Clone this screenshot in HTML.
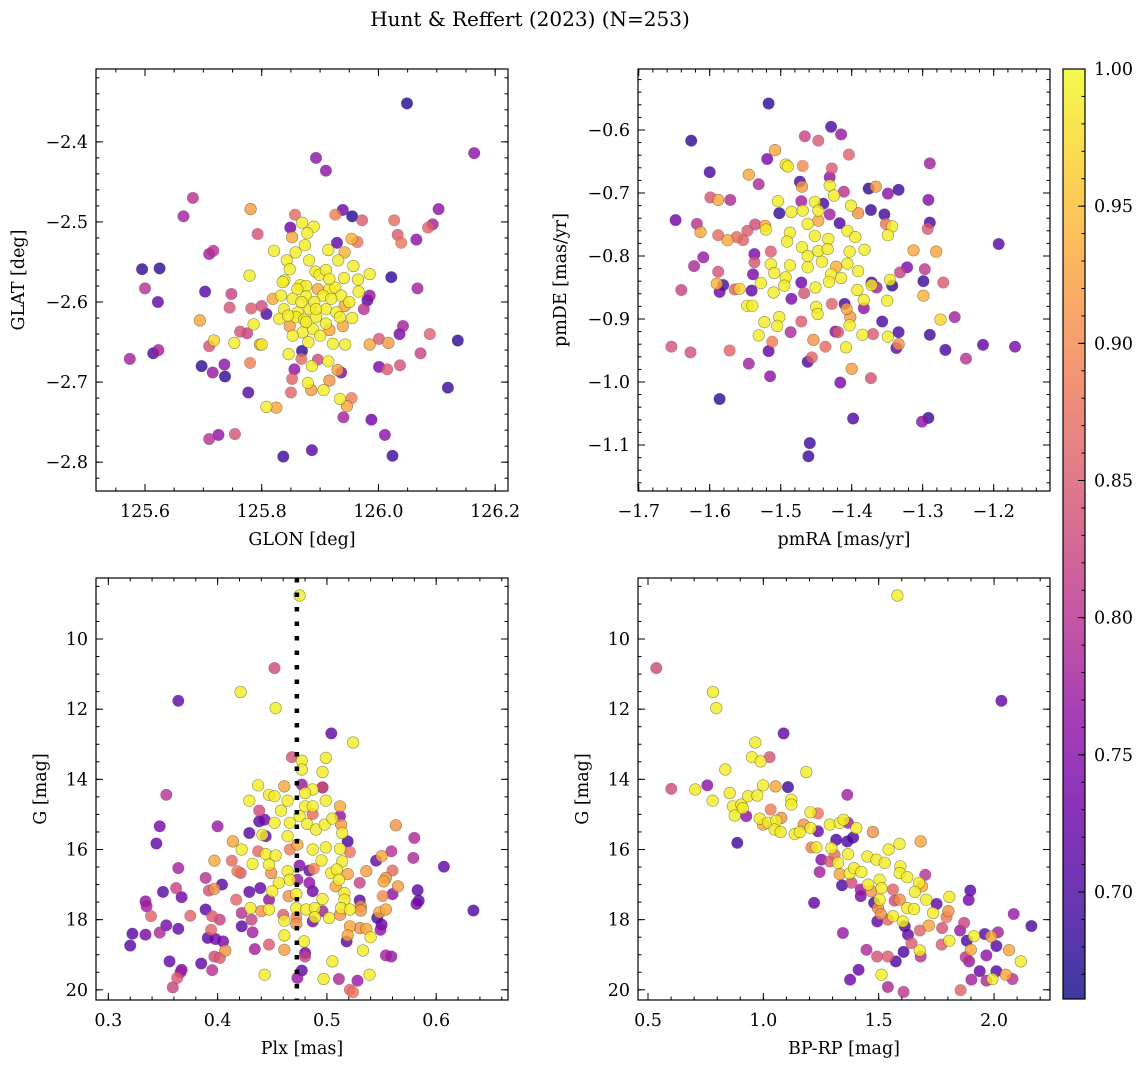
<!DOCTYPE html>
<html><head><meta charset="utf-8">
<style>
html,body{margin:0;padding:0;background:#fff;}
svg{display:block;font-family:"DejaVu Serif","Liberation Serif",serif;}
</style></head>
<body>
<svg id="chart" width="1148" height="1068" viewBox="0 0 1148 1068" xmlns="http://www.w3.org/2000/svg">
<defs>
<linearGradient id="cbgrad" x1="0" y1="1" x2="0" y2="0">
<stop offset="0" stop-color="#0d0887"/><stop offset="0.1" stop-color="#41049d"/><stop offset="0.2" stop-color="#6a00a8"/><stop offset="0.3" stop-color="#8f0da4"/><stop offset="0.4" stop-color="#b12a90"/><stop offset="0.5" stop-color="#cc4778"/><stop offset="0.6" stop-color="#e16462"/><stop offset="0.7" stop-color="#f2844b"/><stop offset="0.8" stop-color="#fca636"/><stop offset="0.9" stop-color="#fcce25"/><stop offset="1" stop-color="#f0f921"/>
</linearGradient>
</defs>
<text x="530" y="26" font-size="20" text-anchor="middle">Hunt &amp; Reffert (2023) (N=253)</text>
</svg>
<script>
// ---- Panel 1: GLON / GLAT ----
const p1x=[126.049,126.164,125.893,125.910,125.682,125.666,125.781,125.857,125.939,125.955,125.926,125.972,126.027,126.103,126.093,126.085,126.033,126.039,126.065,125.793,125.849,125.852,125.929,125.964,125.954,125.717,125.710,125.595,125.625,126.022,125.600,125.622,125.703,125.748,125.745,125.782,125.800,125.808,126.067,125.985,125.981,125.975,125.694,125.763,125.775,125.710,125.718,125.797,125.614,125.623,125.574,126.042,126.036,126.088,126.001,126.017,125.985,126.136,126.072,126.037,126.001,126.015,125.697,125.736,125.716,125.737,125.780,125.869,125.856,125.868,125.896,125.936,125.930,125.916,125.852,125.850,125.885,125.777,126.119,125.954,125.946,125.940,125.988,126.011,126.024,125.825,125.710,125.726,125.754,125.837,125.886,
125.869,125.889,125.878,125.874,125.821,125.858,125.914,125.942,125.843,125.881,125.931,125.848,125.892,125.899,125.910,125.957,125.985,125.941,125.965,125.779,125.839,125.866,125.876,125.861,125.896,125.916,125.926,125.966,125.833,125.853,125.876,125.905,125.936,125.950,125.819,125.838,125.862,125.882,125.910,125.928,125.942,125.830,125.859,125.873,125.893,125.910,125.934,125.955,125.786,125.848,125.870,125.888,125.916,125.939,125.853,125.880,125.900,125.922,125.943,125.753,125.800,125.846,125.886,125.914,125.879,125.906,125.934,125.808,125.836,125.916,125.890,125.868,125.919,125.845,125.893,125.876];
const p1y=[-2.352,-2.414,-2.420,-2.436,-2.470,-2.493,-2.484,-2.491,-2.485,-2.493,-2.491,-2.498,-2.498,-2.484,-2.503,-2.507,-2.516,-2.526,-2.522,-2.515,-2.507,-2.519,-2.526,-2.525,-2.521,-2.536,-2.540,-2.559,-2.558,-2.569,-2.583,-2.600,-2.587,-2.590,-2.607,-2.608,-2.605,-2.615,-2.583,-2.592,-2.598,-2.609,-2.623,-2.637,-2.639,-2.655,-2.648,-2.653,-2.664,-2.660,-2.671,-2.630,-2.640,-2.640,-2.646,-2.651,-2.653,-2.648,-2.664,-2.679,-2.681,-2.684,-2.680,-2.678,-2.688,-2.693,-2.676,-2.661,-2.684,-2.671,-2.672,-2.688,-2.685,-2.698,-2.696,-2.713,-2.710,-2.713,-2.707,-2.720,-2.730,-2.744,-2.747,-2.766,-2.792,-2.732,-2.771,-2.766,-2.765,-2.793,-2.785,
-2.501,-2.506,-2.514,-2.529,-2.536,-2.538,-2.535,-2.538,-2.548,-2.548,-2.548,-2.559,-2.562,-2.566,-2.560,-2.555,-2.565,-2.570,-2.572,-2.567,-2.573,-2.579,-2.580,-2.584,-2.584,-2.584,-2.582,-2.587,-2.592,-2.596,-2.593,-2.592,-2.592,-2.600,-2.596,-2.609,-2.613,-2.609,-2.609,-2.613,-2.605,-2.621,-2.619,-2.622,-2.619,-2.627,-2.619,-2.620,-2.628,-2.630,-2.638,-2.634,-2.635,-2.630,-2.642,-2.650,-2.642,-2.652,-2.653,-2.651,-2.653,-2.665,-2.680,-2.674,-2.701,-2.710,-2.721,-2.731,-2.575,-2.571,-2.600,-2.600,-2.596,-2.617,-2.609,-2.625];
const p1p=[.67,.76,.76,.76,.80,.78,.92,.87,.73,.67,.89,.85,.87,.76,.78,.86,.85,.88,.76,.84,.73,.93,.72,.88,.94,.80,.78,.68,.68,.68,.80,.72,.71,.82,.84,.85,.83,.70,.78,.77,.71,.80,.93,.84,.82,.84,.97,.93,.70,.78,.78,.78,.74,.86,.85,.92,.93,.68,.82,.84,.74,.85,.68,.76,.77,.68,.89,.68,.76,.87,.83,.74,.93,.91,.86,.86,.92,.71,.69,.89,.93,.78,.73,.76,.69,.93,.80,.76,.84,.69,.71,
.99,.99,.99,.99,.99,.99,.99,.94,.99,.99,.99,.99,.99,.99,.99,.99,.99,.99,.99,.99,.99,.99,.99,.99,.93,.99,.99,.99,.99,.99,.99,.99,.99,.99,.93,.99,.99,.99,.99,.99,.93,.99,.99,.99,.99,.99,.99,.99,.99,.92,.99,.99,.93,.93,.99,.99,.99,.99,.99,.99,.99,.99,.99,.99,.99,.99,.99,.99,.99,.99,.99,.99,.99,.99,.99,.99];
const p1xTicks=[125.6,125.8,126.0,126.2];
const p1yTicks=[-2.4,-2.5,-2.6,-2.7,-2.8];

// ---- Panel 2: pmRA / pmDE ----
const p2x=[-1.517,-1.626,-1.429,-1.415,-1.466,-1.447,-1.404,-1.508,-1.519,-1.469,-1.428,-1.431,-1.290,-1.600,-1.545,-1.531,-1.473,-1.470,-1.411,-1.376,-1.366,-1.349,-1.334,-1.292,-1.599,-1.588,-1.571,-1.648,-1.618,-1.613,-1.502,-1.471,-1.440,-1.431,-1.391,-1.373,-1.354,-1.352,-1.290,-1.293,-1.417,-1.193,-1.588,-1.575,-1.562,-1.553,-1.547,-1.536,-1.522,-1.537,-1.537,-1.514,-1.609,-1.622,-1.588,-1.581,-1.590,-1.586,-1.640,-1.539,-1.565,-1.558,-1.541,-1.485,-1.471,-1.467,-1.428,-1.410,-1.407,-1.383,-1.372,-1.365,-1.343,-1.322,-1.332,-1.297,-1.299,-1.271,-1.299,-1.313,-1.281,-1.275,-1.255,-1.357,-1.471,-1.486,-1.512,-1.517,-1.545,-1.515,-1.654,-1.627,-1.572,-1.586,-1.423,-1.419,-1.400,-1.373,-1.416,-1.454,-1.437,-1.462,-1.456,-1.370,-1.334,-1.337,-1.334,-1.290,-1.268,-1.239,-1.215,-1.170,-1.398,-1.301,-1.292,-1.459,-1.461,
-1.493,-1.490,-1.431,-1.425,-1.504,-1.485,-1.469,-1.452,-1.447,-1.401,-1.343,-1.349,-1.521,-1.462,-1.447,-1.406,-1.395,-1.487,-1.491,-1.470,-1.452,-1.433,-1.447,-1.434,-1.403,-1.382,-1.462,-1.442,-1.406,-1.514,-1.487,-1.462,-1.422,-1.391,-1.509,-1.429,-1.493,-1.528,-1.415,-1.432,-1.495,-1.510,-1.451,-1.392,-1.383,-1.372,-1.350,-1.346,-1.547,-1.540,-1.450,-1.448,-1.502,-1.523,-1.505,-1.403,-1.531,-1.385,-1.349,-1.408,-1.402];
const p2y=[-0.558,-0.617,-0.595,-0.607,-0.610,-0.617,-0.639,-0.632,-0.646,-0.657,-0.661,-0.675,-0.653,-0.667,-0.671,-0.686,-0.682,-0.690,-0.698,-0.693,-0.690,-0.701,-0.695,-0.711,-0.707,-0.711,-0.711,-0.743,-0.749,-0.762,-0.732,-0.713,-0.717,-0.734,-0.732,-0.727,-0.734,-0.749,-0.747,-0.757,-0.748,-0.781,-0.767,-0.775,-0.770,-0.775,-0.760,-0.750,-0.752,-0.797,-0.810,-0.793,-0.802,-0.816,-0.825,-0.846,-0.844,-0.857,-0.854,-0.829,-0.853,-0.852,-0.855,-0.868,-0.842,-0.859,-0.876,-0.876,-0.884,-0.883,-0.842,-0.850,-0.847,-0.818,-0.826,-0.821,-0.840,-0.842,-0.863,-0.791,-0.793,-0.901,-0.897,-0.904,-0.904,-0.921,-0.936,-0.951,-0.971,-0.991,-0.944,-0.953,-0.950,-1.027,-0.920,-0.921,-0.979,-0.994,-1.001,-0.933,-0.944,-0.968,-0.961,-0.924,-0.921,-0.946,-0.940,-0.925,-0.949,-0.963,-0.941,-0.944,-1.058,-1.063,-1.057,-1.097,-1.118,
-0.655,-0.658,-0.688,-0.704,-0.713,-0.730,-0.728,-0.714,-0.728,-0.720,-0.753,-0.767,-0.758,-0.749,-0.744,-0.760,-0.770,-0.763,-0.777,-0.786,-0.768,-0.773,-0.792,-0.789,-0.793,-0.790,-0.800,-0.809,-0.812,-0.813,-0.815,-0.818,-0.817,-0.824,-0.827,-0.829,-0.834,-0.843,-0.835,-0.841,-0.847,-0.858,-0.850,-0.854,-0.870,-0.846,-0.871,-0.838,-0.879,-0.879,-0.881,-0.892,-0.897,-0.905,-0.911,-0.910,-0.926,-0.925,-0.928,-0.945,-0.897];
const p2p=[.68,.68,.70,.77,.82,.85,.86,.93,.74,.90,.85,.76,.78,.70,.93,.79,.70,.92,.80,.68,.92,.76,.69,.75,.84,.93,.79,.73,.80,.93,.68,.78,.70,.78,.91,.69,.69,.88,.70,.85,.70,.71,.87,.93,.87,.86,.85,.83,.93,.74,.84,.85,.77,.79,.84,.70,.94,.73,.82,.74,.86,.97,.72,.74,.73,.84,.86,.70,.93,.76,.70,.78,.68,.74,.82,.81,.69,.85,.94,.93,.93,.97,.78,.70,.85,.79,.89,.72,.78,.76,.84,.84,.86,.68,.75,.85,.92,.84,.74,.91,.87,.70,.86,.85,.70,.72,.91,.69,.70,.80,.72,.74,.70,.76,.69,.69,.69,
.99,.99,.99,.99,.99,.99,.99,.99,.99,.99,.99,.99,.99,.99,.93,.99,.99,.99,.99,.99,.99,.99,.99,.99,.99,.99,.99,.99,.99,.99,.99,.99,.94,.99,.99,.99,.99,.99,.99,.99,.99,.99,.99,.99,.99,.99,.99,.99,.99,.99,.99,.99,.99,.99,.99,.99,.99,.99,.99,.99,.92];
const p2xTicks=[-1.7,-1.6,-1.5,-1.4,-1.3,-1.2];
const p2yTicks=[-0.6,-0.7,-0.8,-0.9,-1.0,-1.1];

// ---- Panel 3: Plx / G ----
const p3x=[0.475,0.452,0.421,0.453,0.364,0.504,0.524,0.468,0.477,0.477,0.499,0.496,0.437,0.461,0.477,0.496,0.496,0.487,0.447,0.452,0.429,0.464,0.480,0.499,0.438,0.458,0.480,0.487,0.487,0.512,0.512,0.353,0.438,0.443,0.452,0.466,0.475,0.482,0.490,0.498,0.505,0.514,0.513,0.347,0.400,0.429,0.444,0.414,0.422,0.441,0.464,0.473,0.519,0.499,0.512,0.466,0.344,0.437,0.444,0.453,0.487,0.521,0.559,0.563,0.580,0.579,0.550,0.545,0.397,0.413,0.432,0.447,0.464,0.475,0.484,0.488,0.495,0.514,0.364,0.418,0.421,0.449,0.504,0.519,0.536,0.560,0.607,0.554,0.552,0.509,0.511,0.389,0.404,0.456,0.466,0.473,0.484,0.530,0.565,0.362,0.397,0.392,0.350,0.367,0.429,0.439,0.450,0.472,0.487,0.516,0.508,0.516,0.560,0.583,0.584,0.582,0.551,0.334,0.335,0.417,0.447,0.465,0.496,0.530,0.531,0.389,0.375,0.339,0.430,0.440,0.447,0.460,0.472,0.472,0.481,0.489,0.489,0.496,0.502,0.513,0.521,0.512,0.531,0.548,0.546,0.554,0.634,0.395,0.402,0.422,0.431,0.353,0.364,0.347,0.422,0.487,0.461,0.472,0.394,0.322,0.334,0.320,0.391,0.398,0.405,0.407,0.432,0.461,0.479,0.521,0.530,0.536,0.519,0.540,0.518,0.549,0.550,0.434,0.447,0.461,0.397,0.402,0.480,0.480,0.533,0.554,0.559,0.356,0.385,0.367,0.366,0.395,0.505,0.363,0.359,0.443,0.477,0.473,0.497,0.511,0.528,0.539,0.521,0.524];
const p3y=[8.76,10.83,11.51,11.97,11.76,12.69,12.95,13.37,13.47,13.72,13.39,13.79,14.17,14.20,14.15,14.23,14.23,14.29,14.44,14.48,14.61,14.61,14.39,14.61,14.89,14.89,14.77,14.77,14.99,14.77,15.05,14.44,15.20,15.15,15.24,15.24,15.05,15.27,15.43,15.29,15.12,15.53,15.29,15.34,15.34,15.53,15.62,15.77,16.00,15.58,15.62,15.86,15.77,15.94,15.98,16.00,15.83,16.05,16.13,16.17,16.00,16.07,16.05,15.31,15.67,16.24,16.19,16.32,16.32,16.32,16.41,16.43,16.62,16.46,16.60,16.55,16.31,16.34,16.53,16.62,16.67,16.67,16.67,16.70,16.62,16.60,16.49,16.81,16.91,16.57,16.86,16.81,17.00,16.95,16.86,16.86,16.95,16.95,17.05,17.10,17.12,17.17,17.21,17.36,17.21,17.10,17.19,17.27,17.19,17.24,17.05,17.43,17.27,17.16,17.46,17.55,17.33,17.48,17.62,17.43,17.43,17.33,17.41,17.45,17.62,17.71,17.89,17.90,17.67,17.76,17.71,17.86,17.67,17.93,17.71,17.67,17.93,17.76,17.95,17.67,17.71,17.86,17.74,17.79,17.95,17.71,17.74,17.90,18.00,17.81,18.00,18.16,18.26,18.37,18.19,18.05,18.03,18.12,18.29,18.40,18.43,18.74,18.52,18.55,18.62,18.88,18.36,18.45,18.62,18.19,18.24,18.26,18.45,18.50,18.62,18.29,18.14,18.84,18.71,18.86,19.05,19.09,18.95,19.05,18.88,19.02,19.05,19.19,19.25,19.43,19.50,19.44,19.19,19.66,19.93,19.57,19.45,19.66,19.69,19.69,19.74,19.57,20.00,20.07];
const p3p=[.99,.83,.99,.99,.72,.72,.99,.84,.99,.99,.99,.99,.99,.93,.77,.72,.84,.99,.99,.99,.99,.99,.99,.99,.83,.99,.99,.99,.87,.93,.76,.80,.71,.74,.99,.99,.99,.99,.99,.99,.99,.99,.92,.74,.77,.71,.72,.93,.99,.99,.99,.93,.70,.99,.99,.89,.72,.87,.99,.99,.99,.88,.80,.91,.79,.79,.93,.72,.93,.87,.99,.99,.99,.75,.72,.90,.99,.99,.78,.88,.85,.91,.99,.93,.92,.87,.72,.91,.93,.99,.99,.80,.71,.99,.99,.77,.76,.82,.92,.82,.91,.84,.71,.73,.72,.72,.99,.99,.73,.99,.93,.99,.76,.71,.71,.74,.90,.76,.78,.86,.76,.91,.99,.71,.91,.71,.86,.86,.99,.91,.99,.85,.99,.89,.99,.99,.99,.78,.99,.99,.99,.91,.92,.93,.70,.93,.70,.85,.82,.80,.82,.74,.72,.79,.71,.74,.99,.91,.86,.71,.74,.71,.71,.73,.74,.91,.78,.99,.99,.93,.91,.93,.93,.99,.71,.76,.72,.78,.85,.92,.83,.85,.73,.82,.99,.78,.77,.72,.72,.74,.78,.80,.99,.85,.82,.99,.72,.77,.99,.79,.77,.99,.86,.88];
const p3xTicks=[0.3,0.4,0.5,0.6];
const p3yTicks=[10,12,14,16,18,20];
const plxLine=[0.4725];

// ---- Panel 4: BP-RP / G ----
const p4x=[1.581,0.536,0.782,0.796,2.032,1.088,0.965,1.027,0.951,0.988,0.835,1.186,0.601,0.705,0.757,0.780,0.854,0.999,1.053,1.107,1.364,0.868,0.905,0.934,0.974,0.876,0.911,0.926,1.032,1.121,1.121,1.204,1.237,0.984,1.020,1.056,1.078,0.999,1.049,1.075,1.136,1.158,1.175,1.205,1.237,1.288,1.331,1.348,1.403,1.367,1.316,1.364,1.389,1.475,0.887,1.208,1.230,1.295,1.251,1.288,1.324,1.367,1.309,1.244,1.331,1.374,1.393,1.425,1.451,1.490,1.526,1.543,1.590,1.682,1.341,1.382,1.422,1.422,1.454,1.468,1.504,1.512,1.562,1.591,1.569,1.504,1.594,1.591,1.624,1.675,1.657,1.688,1.702,1.706,1.751,1.806,1.802,1.480,1.497,1.509,1.562,1.605,1.494,1.540,1.624,1.653,1.736,1.794,1.613,1.627,1.642,1.678,1.717,1.775,1.897,1.890,2.085,2.162,1.870,1.853,1.882,1.913,1.960,2.017,1.987,2.010,1.806,1.773,1.877,1.899,1.967,2.065,2.116,1.892,1.938,1.902,1.967,1.993,2.010,2.051,2.080,1.855,1.345,1.447,1.493,1.540,1.574,1.608,1.682,1.678,1.220,1.413,1.376,1.540,1.608,1.512];
const p4y=[8.76,10.83,11.51,11.97,11.76,12.69,12.95,13.37,13.37,13.49,13.72,13.79,14.27,14.29,14.17,14.61,14.39,14.17,14.20,14.22,14.44,14.77,14.72,14.48,14.46,15.03,14.82,15.05,14.86,14.58,14.72,14.94,14.97,15.12,15.24,15.18,15.10,15.29,15.43,15.50,15.56,15.50,15.29,15.39,15.48,15.29,15.24,15.15,15.39,15.24,15.72,15.77,15.66,15.50,15.81,15.94,15.94,15.96,16.29,16.34,16.38,16.13,16.15,16.64,16.70,16.68,16.53,16.64,16.20,16.29,16.38,16.00,15.84,15.77,17.02,16.95,17.14,17.33,17.00,17.19,16.86,17.10,17.14,17.43,17.46,17.43,16.48,16.67,16.79,16.95,17.21,17.05,16.72,17.43,17.55,17.35,17.76,17.52,17.67,17.84,17.90,18.05,18.05,18.00,17.67,17.70,17.81,17.93,18.19,18.43,18.67,18.31,18.17,18.24,17.17,17.44,17.84,18.18,18.09,18.31,18.60,18.47,18.41,18.36,18.48,18.75,18.60,18.71,19.07,18.86,19.02,18.87,19.19,19.19,19.47,19.71,19.74,19.69,19.47,19.57,19.69,20.01,18.38,18.86,19.05,19.05,19.19,18.92,19.05,18.88,17.52,19.43,19.71,19.92,20.06,19.57];
const p4p=[.99,.83,.99,.99,.72,.72,.99,.84,.99,.99,.99,.99,.83,.99,.76,.99,.99,.99,.93,.69,.78,.99,.99,.99,.99,.99,.99,.76,.89,.99,.99,.99,.88,.99,.99,.99,.91,.93,.99,.99,.99,.99,.91,.99,.73,.99,.99,.99,.99,.78,.70,.70,.70,.91,.69,.89,.99,.99,.75,.85,.99,.99,.87,.78,.93,.99,.99,.99,.99,.99,.99,.99,.99,.93,.70,.83,.77,.74,.99,.91,.99,.99,.86,.91,.83,.99,.99,.99,.99,.99,.99,.93,.80,.99,.72,.99,.91,.70,.91,.91,.99,.99,.72,.86,.99,.99,.99,.88,.70,.72,.85,.86,.93,.84,.71,.74,.77,.70,.82,.77,.70,.99,.71,.78,.93,.71,.99,.85,.80,.93,.76,.93,.99,.77,.72,.78,.79,.99,.71,.93,.80,.86,.77,.79,.84,.85,.70,.70,.80,.99,.72,.72,.73,.79,.81,.99];
const p4xTicks=[0.5,1.0,1.5,2.0];
const p4yTicks=[10,12,14,16,18,20];

const cbTicks=[1.00,0.95,0.90,0.85,0.80,0.75,0.70];
const VMIN=0.661, VMAX=1.0;

const NS="http://www.w3.org/2000/svg";
const svg=document.getElementById('chart');
const plasma=[[13,8,135],[65,4,157],[106,0,168],[143,13,164],[177,42,144],[204,71,120],[225,100,98],[242,132,75],[252,166,54],[252,206,37],[240,249,33]];
function cmap(v){
  let t=(v-VMIN)/(VMAX-VMIN); t=Math.max(0,Math.min(1,t));
  const s=t*10, i=Math.min(9,Math.floor(s)), f=s-i;
  const a=plasma[i], b=plasma[i+1];
  return 'rgb('+a.map((c,k)=>Math.round(c+(b[k]-c)*f)).join(',')+')';
}
function mk(tag,attrs,parent){const e=document.createElementNS(NS,tag);for(const k in attrs)e.setAttribute(k,attrs[k]);(parent||svg).appendChild(e);return e;}
function fmt(v,d){const s=Math.abs(v).toFixed(d);return (v<0?'\u2212':'')+s;}
const FS=17.5;

function panel(cfg){
  const g=mk('g',{});
  
  
  const sx=v=>cfg.L+(v-cfg.x0)/(cfg.x1-cfg.x0)*(cfg.R-cfg.L);
  const sy=v=>cfg.T+(v-cfg.y0)/(cfg.y1-cfg.y0)*(cfg.B-cfg.T);
  const idx=cfg.xs.map((_,i)=>i).sort((a,b)=>cfg.ps[a]-cfg.ps[b]);
  const pg=mk('g',{},g);
  
  
  idx.forEach(i=>{
    const c=mk('circle',{cx:sx(cfg.xs[i]).toFixed(1),cy:sy(cfg.ys[i]).toFixed(1),r:5.8,fill:cmap(cfg.ps[i]),'fill-opacity':0.8,stroke:cfg.ps[i]>0.9?'rgba(70,70,20,0.6)':'rgba(60,40,80,0.25)','stroke-width':0.6},pg);
    
    
  });
  if(cfg.vline){
    cfg.vline.forEach(v=>{
      const l=mk('line',{x1:sx(v),x2:sx(v),y1:cfg.T,y2:cfg.B,stroke:'#000','stroke-width':4.5,'stroke-dasharray':'4.5 10'},g);
      
      
    });
  }
  const fr=mk('rect',{x:cfg.L,y:cfg.T,width:cfg.R-cfg.L,height:cfg.B-cfg.T,fill:'none',stroke:'#000','stroke-width':1.2},g);
  
  
  const tg=mk('g',{stroke:'#000','stroke-width':1},g);
  const mlo=Math.min(cfg.x0,cfg.x1), mhi=Math.max(cfg.x0,cfg.x1);
  for(let k=Math.ceil(mlo/cfg.xm-1e-6);k*cfg.xm<=mhi;k++){const X=sx(k*cfg.xm);
    mk('line',{x1:X,x2:X,y1:cfg.B,y2:cfg.B-3.5},tg);mk('line',{x1:X,x2:X,y1:cfg.T,y2:cfg.T+3.5},tg);}
  const ylo=Math.min(cfg.y0,cfg.y1), yhi=Math.max(cfg.y0,cfg.y1);
  for(let k=Math.ceil(ylo/cfg.ym-1e-6);k*cfg.ym<=yhi;k++){const Y=sy(k*cfg.ym);
    mk('line',{x1:cfg.L,x2:cfg.L+3.5,y1:Y,y2:Y},tg);mk('line',{x1:cfg.R,x2:cfg.R-3.5,y1:Y,y2:Y},tg);}
  cfg.xt.forEach(v=>{const X=sx(v);
    mk('line',{x1:X,x2:X,y1:cfg.B,y2:cfg.B-7},tg);mk('line',{x1:X,x2:X,y1:cfg.T,y2:cfg.T+7},tg);
    const t=mk('text',{x:X,y:cfg.B+26,'font-size':FS,'text-anchor':'middle'},g);t.textContent=fmt(v,cfg.xd);
    
    
  });
  cfg.yt.forEach(v=>{const Y=sy(v);
    mk('line',{x1:cfg.L,x2:cfg.L+7,y1:Y,y2:Y},tg);mk('line',{x1:cfg.R,x2:cfg.R-7,y1:Y,y2:Y},tg);
    const t=mk('text',{x:cfg.L-8,y:Y+6,'font-size':FS,'text-anchor':'end'},g);t.textContent=fmt(v,cfg.yd);
    
    
  });
  const xl=mk('text',{x:(cfg.L+cfg.R)/2,y:cfg.B+54,'font-size':FS,'text-anchor':'middle'},g);xl.textContent=cfg.xlabel;
  
  
  const yl=mk('text',{x:0,y:0,'font-size':FS,'text-anchor':'middle',transform:'translate('+cfg.ylx+','+((cfg.T+cfg.B)/2)+') rotate(-90)'},g);yl.textContent=cfg.ylabel;
  
  
}

panel({name:'glon-glat-panel',L:96,R:508,T:69,B:491,x0:125.516,x1:126.222,y0:-2.309,y1:-2.836,xs:p1x,ys:p1y,ps:p1p,xt:p1xTicks,yt:p1yTicks,xm:0.05,ym:0.02,xd:1,yd:1,xlabel:'GLON [deg]',ylabel:'GLAT [deg]',ylx:24});
panel({name:'pm-panel',L:638,R:1050,T:69,B:491,x0:-1.701,x1:-1.1207,y0:-0.5032,y1:-1.173,xs:p2x,ys:p2y,ps:p2p,xt:p2xTicks,yt:p2yTicks,xm:0.02,ym:0.02,xd:1,yd:1,xlabel:'pmRA [mas/yr]',ylabel:'pmDE [mas/yr]',ylx:566});
panel({name:'plx-g-panel',L:96,R:508,T:578,B:1000,x0:0.2887,x1:0.6657,y0:8.261,y1:20.29,xs:p3x,ys:p3y,ps:p3p,xt:p3xTicks,yt:p3yTicks,xm:0.02,ym:0.5,xd:1,yd:0,xlabel:'Plx [mas]',ylabel:'G [mag]',ylx:46,vline:plxLine});
panel({name:'cmd-panel',L:638,R:1050,T:578,B:1000,x0:0.4567,x1:2.2425,y0:8.261,y1:20.29,xs:p4x,ys:p4y,ps:p4p,xt:p4xTicks,yt:p4yTicks,xm:0.1,ym:0.5,xd:1,yd:0,xlabel:'BP-RP [mag]',ylabel:'G [mag]',ylx:588});

(function(){
  const L=1063,R=1085,T=69,B=999;
  const sy=v=>B-(v-VMIN)/(VMAX-VMIN)*(B-T);
  const g=mk('g',{});
  
  
  const r=mk('rect',{x:L,y:T,width:R-L,height:B-T,fill:'url(#cbgrad)','fill-opacity':0.8,stroke:'#000','stroke-width':1.2},g);
  
  
  for(let k=67;k<=100;k++){const Y=sy(k/100);mk('line',{x1:R,x2:R-3.5,y1:Y,y2:Y,stroke:'#000','stroke-width':1},g);}
  cbTicks.forEach(v=>{const Y=sy(v);
    mk('line',{x1:R,x2:R-7,y1:Y,y2:Y,stroke:'#000','stroke-width':1},g);
    const t=mk('text',{x:R+9,y:Y+6,'font-size':FS},g);t.textContent=v.toFixed(2);
    
    
  });
})();
</script>
</body></html>
